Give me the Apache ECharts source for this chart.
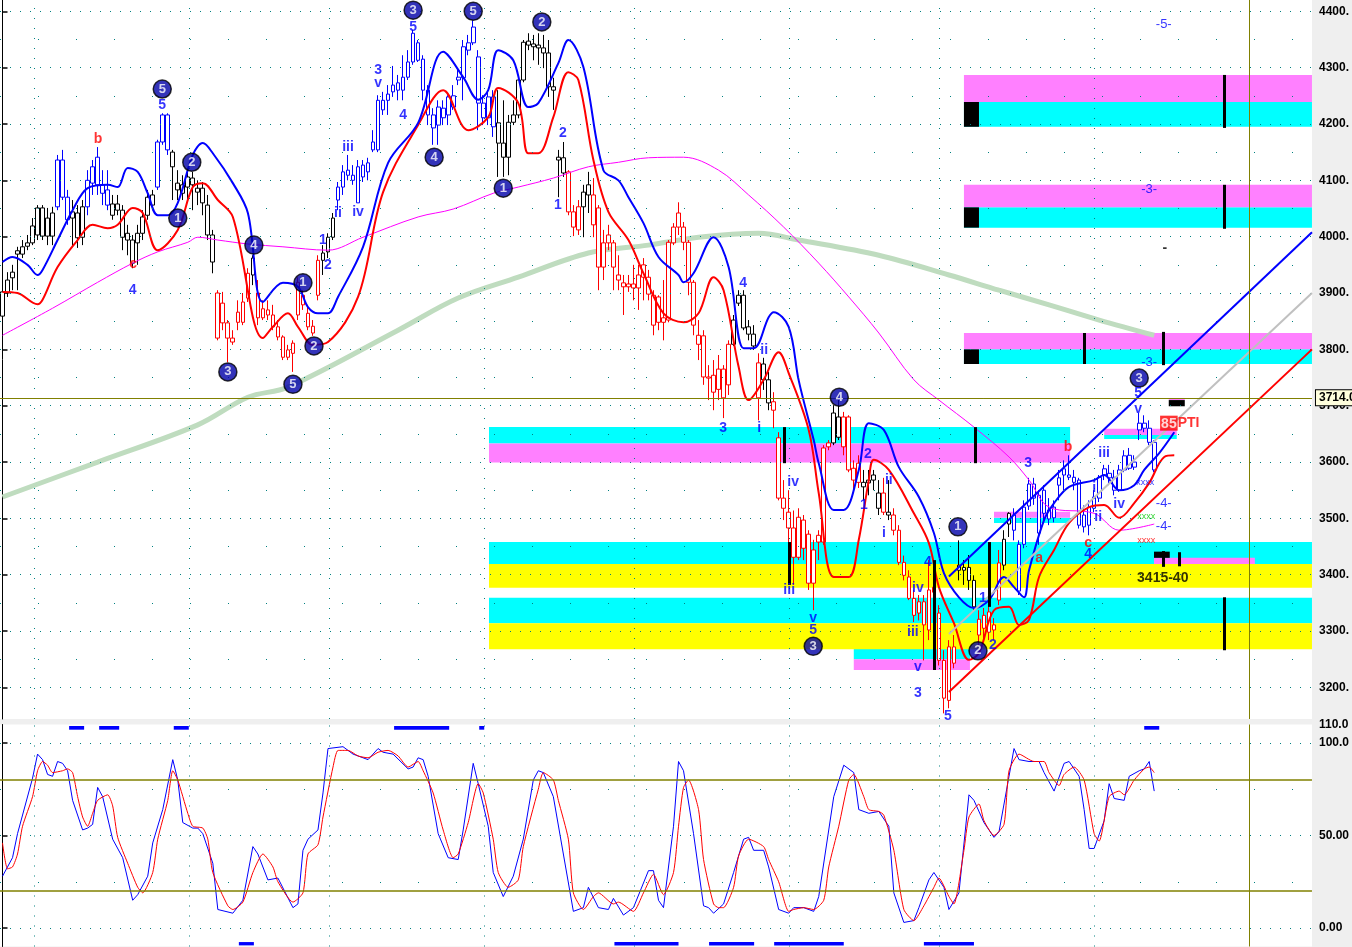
<!DOCTYPE html>
<html>
<head>
<meta charset="utf-8">
<title>Price chart with wave counts and stochastic</title>
<script src="https://cdn.jsdelivr.net/npm/echarts@6.0.0/dist/echarts.min.js"></script>
<style>
html,body{margin:0;padding:0;background:#efefef;overflow:hidden}
#main{width:1352px;height:947px}
</style>
</head>
<body>
<div id="main"></div>
<script>
// ---------------- DATA ----------------
const priceTicks = [3200,3300,3400,3500,3600,3700,3800,3900,4000,4100,4200,4300,4400];
const halfLevels = [3250,3350,3450,3550,3650,3750,3850,3950,4050,4150,4250,4350];
const stochTicks = [0,50,100,110];
const monthLines = [6.3,37.2,65.2,96.2,126.1,157.1,187.0,218.0];
const cursorX = 248.9;
const cursorPrice = 3714;

const opens = [3859,3900,3927,3975,3969,3983,3989,4003,4051,4033,
4001,4053,4136,4070,4033,4042,3999,4053,4095,4141,
4092,4083,4058,4058,4047,4006,3994,3989,4006,4038,
4074,4088,4168,4216,4150,4083,4092,4088,4104,4079,
4086,4056,4003,3820,3882,3847,3820,3866,3848,3891,
3932,3900,3856,3870,3861,3840,3822,3799,3793,3919,
3896,3864,3841,3896,3958,3973,3999,4065,4088,4118,
4109,4060,4127,4115,4154,4154,4242,4242,4257,4273,
4260,4283,4310,4344,4315,4260,4216,4198,4228,4216,
4230,4278,4282,4344,4344,4319,4237,4211,4248,4202,
4166,4141,4203,4216,4278,4347,4337,4335,4335,4326,
4266,4136,4140,4115,4044,4012,4053,4092,4074,4051,
3946,4003,3989,3932,3918,3916,3916,3909,3928,3928,
3896,3893,3856,3852,3989,4042,4017,3990,3919,3809,
3824,3749,3754,3729,3765,3737,3809,3882,3896,3840,
3827,3714,3774,3746,3707,3643,3536,3511,3483,3502,
3447,3472,3385,3470,3458,3627,3634,3644,3680,3680,
3589,3598,3564,3563,3568,3518,3545,3511,3506,3479,
3422,3396,3358,3332,3352,3302,3369,3332,3248,3177,
3272,3417,3413,3413,3390,3321,3305,3334,3311,3355,
3417,3509,3479,3371,3454,3522,3561,3474,3550,3499,
3501,3559,3577,3577,3573,3568,3506,3488,3518,3536,
3588,3580,3573,3550,3586,3612,3591,3657,3669,3660,
3635];
const highs = [3918,3937,3950,3982,3994,4003,4033,4056,4056,4051,
4053,4145,4154,4083,4065,4056,4065,4118,4136,4159,
4118,4118,4074,4074,4056,4021,4003,4021,4047,4083,
4083,4172,4219,4219,4154,4118,4109,4122,4115,4100,
4097,4074,4012,3905,3902,3852,3834,3887,3900,3944,
3967,3923,3887,3887,3879,3852,3825,3808,3816,3928,
3905,3879,3852,3967,3985,4006,4042,4097,4127,4145,
4127,4136,4136,4140,4189,4251,4257,4269,4303,4287,
4322,4331,4367,4349,4322,4269,4228,4242,4242,4251,
4269,4296,4349,4358,4384,4331,4251,4260,4260,4260,
4242,4216,4242,4287,4349,4361,4358,4361,4358,4349,
4282,4154,4168,4118,4056,4065,4092,4115,4104,4056,
4012,4021,3994,3967,3932,3932,3950,3950,3962,3941,
3905,3896,3923,3994,4024,4061,4026,3994,3923,3852,
3834,3772,3781,3790,3772,3816,3861,3905,3905,3852,
3843,3793,3785,3760,3724,3653,3568,3550,3514,3518,
3506,3479,3462,3479,3630,3639,3701,3710,3689,3683,
3603,3612,3586,3586,3586,3568,3572,3568,3518,3488,
3434,3408,3373,3364,3364,3426,3390,3346,3266,3284,
3293,3461,3426,3435,3399,3337,3341,3346,3323,3444,
3479,3511,3518,3461,3532,3572,3572,3550,3559,3536,
3532,3586,3603,3612,3586,3572,3523,3532,3550,3577,
3595,3595,3586,3595,3621,3625,3612,3687,3683,3674,
3639];
const lows = [3856,3893,3905,3905,3962,3976,3985,3994,3994,3985,
3985,4047,4065,4021,3982,3980,3985,4038,4074,4074,
4056,4047,4030,4038,3976,3967,3944,3950,3994,4030,
4047,4083,4163,4145,4065,4065,4065,4065,4047,4056,
4038,3994,3935,3816,3834,3777,3808,3834,3843,3884,
3914,3843,3852,3852,3834,3816,3781,3781,3760,3852,
3870,3834,3824,3887,3932,3962,3994,4047,4074,4100,
4092,4060,4097,4100,4150,4150,4216,4216,4248,4242,
4242,4278,4305,4310,4242,4198,4163,4163,4198,4198,
4225,4269,4242,4322,4340,4189,4198,4198,4177,4106,
4106,4109,4198,4210,4274,4331,4313,4305,4299,4248,
4225,4070,4106,4038,4001,4003,3999,4042,3999,3905,
3923,3976,3905,3905,3861,3902,3887,3870,3887,3887,
3825,3834,3816,3848,3985,4003,3976,3896,3825,3781,
3737,3710,3692,3710,3678,3719,3806,3877,3834,3816,
3799,3674,3728,3692,3660,3532,3497,3426,3382,3426,
3426,3373,3337,3426,3453,3621,3630,3639,3612,3582,
3550,3554,3532,3541,3550,3506,3506,3497,3470,3417,
3390,3355,3316,3319,3248,3284,3355,3239,3154,3163,
3234,3390,3382,3373,3337,3275,3284,3284,3284,3346,
3408,3467,3461,3364,3447,3515,3524,3453,3497,3488,
3493,3532,3550,3568,3550,3482,3475,3470,3511,3529,
3568,3559,3541,3547,3582,3586,3586,3639,3653,3630,
3582];
const closes = [3902,3923,3937,3969,3982,3989,4019,4051,4001,4001,
4042,4136,4070,4030,4044,3998,4053,4100,4124,4092,
4077,4056,4038,4047,3999,3994,3953,4006,4035,4070,
4056,4168,4216,4154,4124,4095,4077,4106,4092,4086,
4060,4003,3955,3900,3847,3820,3813,3848,3884,3935,
3962,3856,3872,3861,3840,3822,3786,3786,3811,3861,
3879,3840,3829,3958,3971,3999,4033,4088,4115,4109,
4100,4124,4106,4131,4168,4242,4225,4253,4269,4260,
4283,4310,4361,4313,4260,4216,4193,4230,4211,4248,
4250,4283,4337,4331,4372,4237,4211,4248,4195,4166,
4141,4203,4216,4278,4345,4340,4342,4340,4326,4266,
4260,4141,4113,4044,4017,4053,4079,4074,4021,3946,
3989,3989,3946,3923,3911,3911,3909,3932,3950,3898,
3843,3848,3848,3990,4017,4017,3990,3919,3843,3825,
3751,3751,3724,3765,3714,3809,3852,3896,3838,3827,
3806,3776,3746,3705,3692,3536,3518,3483,3431,3431,
3497,3385,3444,3458,3625,3634,3687,3680,3627,3586,
3568,3564,3556,3568,3577,3545,3511,3506,3479,3422,
3399,3358,3328,3352,3311,3373,3378,3248,3181,3272,
3243,3408,3408,3390,3343,3293,3328,3298,3302,3421,
3463,3490,3506,3454,3520,3561,3536,3541,3509,3515,
3520,3572,3588,3573,3564,3488,3485,3520,3538,3573,
3577,3572,3550,3586,3611,3589,3600,3669,3660,3635,
3586];
// candle colour class per run: k = neutral, b = up-trend, r = down-trend
const colorRuns = [['k',11],['b',3],['k',3],['b',5],['k',9],['b',3],['k',9],['r',7],['k',1],['r',13],['k',3],['b',32],['k',14],['r',3],['k',2],['r',28],['k',5],['r',1],['k',2],['r',12],['k',2],['r',4],['k',4],['r',1],['k',1],['r',13],['k',4],['r',5],['k',2],['b',29]];

const blueMA = [[0,3955],[2,3964],[5,3950],[7,3932],[8,3941],[11,3994],[14,4047],[17,4086],[21,4092],[23,4088],[25,4122],[27,4115],[29,4077],[31,4038],[33,4038],[35,4060],[38,4145],[40,4166],[42,4148],[46,4095],[49,4042],[52,3884],[56,3918],[59,3911],[61,3875],[63,3864],[65,3864],[67,3893],[72,3982],[77,4131],[83,4202],[88,4328],[92,4283],[95,4243],[97,4260],[99,4331],[102,4313],[105,4230],[107,4237],[111,4308],[113,4349],[116,4301],[120,4118],[123,4100],[125,4070],[128,4024],[131,3964],[135,3932],[136,3919],[138,3935],[142,3999],[145,3946],[148,3802],[150,3802],[153,3857],[154,3866],[157,3840],[159,3745],[162,3639],[163,3598],[166,3515],[168,3515],[171,3586],[173,3669],[176,3657],[179,3591],[183,3538],[186,3474],[188,3403],[191,3360],[194,3341],[197,3355],[200,3396],[202,3378],[204,3360],[205,3408],[208,3497],[210,3527],[213,3556],[218,3568],[220,3577],[223,3550],[226,3559],[228,3586],[231,3616],[234,3653]];
const redMA = [[0,3902],[3,3900],[7,3880],[8,3888],[11,3946],[15,3994],[18,4021],[21,4015],[23,4021],[26,4051],[28,4042],[31,3976],[35,4012],[38,4088],[40,4095],[43,4065],[46,4035],[52,3820],[54,3840],[57,3864],[59,3840],[62,3808],[65,3813],[71,3893],[76,4079],[83,4198],[88,4260],[93,4189],[97,4212],[99,4264],[103,4237],[105,4148],[107,4148],[110,4212],[113,4292],[115,4278],[118,4136],[121,4044],[125,3994],[128,3935],[132,3864],[136,3848],[139,3864],[142,3928],[144,3905],[147,3769],[149,3710],[152,3746],[155,3795],[157,3758],[161,3657],[163,3545],[166,3396],[169,3396],[171,3462],[173,3568],[174,3604],[177,3586],[182,3509],[185,3456],[187,3378],[190,3314],[193,3249],[195,3261],[198,3337],[201,3343],[203,3311],[205,3320],[207,3396],[210,3444],[213,3492],[217,3520],[220,3524],[223,3501],[226,3527],[229,3563],[232,3609],[234,3612]];
const magentaMA = [[0,3825],[10,3873],[19,3919],[26,3953],[31,3973],[37,3990],[39,3999],[43,3994],[49,3987],[56,3982],[65,3976],[72,3999],[83,4035],[90,4049],[98,4077],[103,4088],[110,4104],[117,4124],[123,4132],[129,4140],[136,4141],[143,4118],[149,4074],[156,4017],[163,3953],[169,3893],[175,3829],[182,3746],[187,3710],[194,3662],[201,3609],[205,3568],[209,3520],[218,3509],[223,3479],[230,3490]];
const greenMA = [[0,3538],[19,3600],[39,3666],[49,3715],[57,3733],[79,3834],[91,3891],[103,3928],[117,3971],[129,3985],[139,3999],[151,4006],[159,3994],[175,3967],[189,3932],[199,3905],[209,3879],[219,3852],[230,3825]];

const stochK = [[0,28],[2,38],[3,51],[6,81],[7,94],[8,91],[9,83],[10,82],[11,90],[12,89],[13,85],[14,69],[16,53],[17,54],[18,56],[19,76],[20,71],[22,48],[24,38],[26,15],[27,18],[29,28],[30,46],[32,64],[34,91],[35,80],[36,57],[38,54],[39,54],[40,51],[42,35],[43,10],[46,8],[48,15],[50,44],[51,40],[53,26],[55,27],[58,11],[59,13],[60,42],[61,48],[63,53],[64,73],[65,97],[68,98],[70,94],[73,91],[74,94],[75,97],[76,95],[78,94],[81,86],[82,87],[83,92],[84,91],[85,82],[87,51],[89,38],[91,37],[92,53],[94,89],[95,78],[97,55],[98,30],[100,17],[102,28],[104,48],[106,80],[107,85],[108,84],[110,71],[112,40],[114,9],[116,11],[117,22],[119,11],[121,10],[122,16],[124,7],[126,11],[129,31],[130,31],[131,15],[132,11],[134,55],[135,90],[136,85],[138,51],[140,12],[141,11],[142,8],[144,13],[146,30],[148,48],[149,49],[150,42],[152,42],[153,33],[155,10],[157,8],[158,11],[160,11],[162,9],[163,17],[166,71],[168,88],[170,84],[171,64],[173,62],[175,63],[177,55],[178,19],[180,3],[182,4],[183,11],[185,26],[186,30],[188,22],[189,10],[191,19],[193,72],[194,69],[196,57],[198,49],[199,52],[201,82],[202,97],[203,91],[205,90],[207,90],[208,84],[210,74],[212,89],[213,90],[215,82],[216,64],[217,43],[218,43],[220,58],[221,78],[222,70],[224,69],[225,82],[227,85],[228,86],[229,90],[230,74]];
const stochD = [[0,46],[1,32],[2,33],[3,40],[4,55],[6,71],[7,85],[8,90],[9,88],[10,84],[12,85],[13,86],[14,84],[15,71],[16,60],[17,55],[18,62],[19,69],[21,72],[22,66],[23,49],[25,35],[27,22],[28,19],[30,30],[31,48],[33,69],[34,85],[35,80],[37,62],[38,55],[40,54],[41,48],[42,30],[45,12],[46,10],[48,14],[50,30],[52,40],[54,33],[55,25],[58,14],[60,19],[61,40],[63,45],[64,60],[66,87],[67,96],[69,96],[71,93],[73,92],[75,95],[77,96],[79,93],[81,87],[83,90],[84,85],[86,73],[88,53],[90,38],[91,40],[93,57],[95,78],[96,73],[98,48],[99,30],[101,22],[103,26],[104,44],[107,75],[108,84],[110,80],[111,69],[113,48],[114,19],[116,10],[118,17],[119,19],[122,13],[123,14],[126,9],[128,19],[130,29],[132,18],[134,30],[135,55],[136,76],[137,80],[139,64],[140,37],[142,13],[143,11],[144,11],[146,22],[147,39],[149,48],[152,44],[153,37],[155,25],[157,9],[158,10],[160,11],[162,10],[164,15],[165,33],[167,55],[169,80],[170,83],[172,71],[173,64],[175,63],[176,61],[178,42],[180,10],[182,4],[184,12],[186,22],[187,27],[189,17],[190,13],[192,42],[193,60],[195,67],[196,58],[198,50],[200,56],[201,85],[203,94],[206,90],[208,90],[209,84],[211,77],[212,83],[214,87],[216,80],[218,51],[219,47],[221,71],[223,74],[224,72],[226,80],[228,86],[229,87],[230,84]];

// zones: [fromBar, toBar, lowPrice, highPrice]
const cyanZones = [[192.0,261.5,4195,4239],[192.0,261.5,4016,4052],[192.0,261.5,3774,3800],[97.15,213.2,3633,3662],[97.15,261.5,3419,3458],[97.15,261.5,3314,3359],[170.0,193.2,3250,3269],[198.0,213.2,3492,3501],[220.0,234.5,3641,3648]];
const magentaZones = [[192.0,261.5,4239,4287],[192.0,261.5,4052,4092],[192.0,261.5,3800,3829],[97.15,213.2,3599,3633],[170.0,193.2,3231,3250],[198.0,213.2,3501,3512],[220.0,234.5,3648,3659],[229.95,250.1,3419,3430],[232.9,236.1,3710,3713]];
const yellowZones = [[97.15,261.5,3377,3419],[97.15,261.5,3268,3314]];
const blackZones = [[192.0,195.0,4195,4239],[192.0,195.0,4016,4052],[192.0,195.0,3774,3800],[229.95,233.1,3430,3441],[232.9,236.1,3699,3710]];
// black vertical markers: [bar, lowPrice, highPrice]
const blackMarkers = [[156.1,3598,3662],[194.2,3598,3662],[157.1,3382,3458],[186.0,3231,3426],[197.0,3343,3458],[216.0,3774,3829],[231.9,3772,3831],[243.9,4193,4287],[243.9,4014,4092],[243.9,3266,3360],[231.9,3414,3442],[234.9,3415,3440]];
// trend lines: [bar1, price1, bar2, price2]
const blueTrend = [189.0,3397,261.5,4008];
const grayTrend = [189.0,3295,261.5,3900];
const redTrend = [189.0,3192,261.5,3800];
// stochastic signal bars: [fromBar, toBar]
const topSignals = [[13.3,16.3],[19.3,23.3],[34.2,37.2],[78.2,89.2],[95.2,96.2],[228.0,231.0]];
const bottomSignals = [[47.2,50.2],[122.2,135.0],[141.1,150.1],[154.1,168.0],[184.0,194.0]];

// annotations: [bar, price, text]
const circleLabels = [[31.9,4262,'5'],[35.0,4033,'1'],[37.8,4132,'2'],[45.0,3760,'3'],[50.2,3985,'4'],[58.0,3738,'5'],[60.0,3918,'1'],[62.2,3806,'2'],[82.0,4402,'3'],[86.2,4141,'4'],[94.0,4400,'5'],[100.0,4086,'1'],[107.7,4381,'2'],[167.1,3715,'4'],[161.9,3273,'3'],[190.8,3485,'1'],[194.8,3265,'2'],[227.0,3749,'3']];
const blueLabels = [[31.9,4233,'5'],[26.0,3905,'4'],[64.0,3994,'1'],[65.0,3950,'2'],[67.0,4042,'ii'],[69.0,4159,'iii'],[71.0,4044,'iv'],[75.0,4296,'3'],[75.0,4272,'v'],[80.0,4216,'4'],[82.0,4372,'5'],[111.9,4184,'2'],[110.9,4056,'1'],[147.9,3918,'4'],[143.9,3660,'3'],[151.1,3660,'i'],[152.1,3799,'ii'],[157.9,3564,'iv'],[157.1,3373,'iii'],[161.9,3323,'v'],[161.9,3301,'5'],[172.8,3614,'2'],[172.0,3524,'1'],[177.0,3568,'ii'],[176.0,3474,'i'],[184.8,3422,'4'],[182.8,3376,'iv'],[181.8,3298,'iii'],[182.8,3236,'v'],[182.8,3190,'3'],[188.8,3149,'5'],[195.8,3358,'1'],[197.8,3275,'2'],[204.8,3598,'3'],[220.0,3616,'iii'],[218.0,3554,'i'],[218.8,3502,'ii'],[223.0,3525,'iv'],[216.8,3437,'4'],[226.8,3722,'5'],[226.8,3694,'v']];
const redLabels = [[19.1,4173,'b'],[26.1,3951,'c'],[212.8,3627,'b'],[207.0,3430,'a'],[216.8,3456,'c']];
const targetLabels = [[229.0,4083,'-3-'],[229.0,3776,'-3-'],[231.9,4376,'-5-'],[231.9,3527,'-4-'],[231.9,3485,'-4-']];
const blackLabels = [[231.7,3394,'3415-40'],[232.1,3980,'-']];
const ptiLabel = [[235.1,3669,'85','PTI']];
const xMarkBlue = [[228.2,3563,'xxxx']];
const xMarkGreen = [[228.4,3504,'xxxx']];
const xMarkRed = [[228.4,3461,'xxxx']];

// ---------------- CHART ----------------
const FONT = 'Liberation Sans, Arial, Helvetica, sans-serif';
const TEAL = '#008080', OLIVE = '#808000';
const CYAN = '#00ffff', MAGENTA = '#ff80ff', YELLOW = '#ffff00';
const colorMap = {k:'#000000', b:'#0000ff', r:'#ff0000'};
const barCodes = [];
colorRuns.forEach(([c, n]) => { for (let j = 0; j < n; j++) barCodes.push(c); });

const candleData = opens.map((o, i) => {
  const c = colorMap[barCodes[i]] || '#000';
  return {value: [i, o, closes[i], lows[i], highs[i]],
          itemStyle: {color: '#ffffff', color0: c, borderColor: c, borderColor0: c, borderWidth: 1}};
});

const areaItems = [];
function addZones(arr, color) {
  arr.forEach(z => areaItems.push([{coord: [z[0], z[2]], itemStyle: {color: color, opacity: 1, borderWidth: 0}}, {coord: [z[1], z[3]]}]));
}
addZones(cyanZones, CYAN);
addZones(magentaZones, MAGENTA);
addZones(yellowZones, YELLOW);
addZones(blackZones, '#000000');

const markerItems = blackMarkers.map(m => [{coord: [m[0], m[1]], lineStyle: {color: '#000', width: 3, type: 'solid'}}, {coord: [m[0], m[2]]}]);
function trendItem(t, color) {
  return [{coord: [t[0], t[1]], lineStyle: {color: color, width: 2, type: 'solid'}}, {coord: [t[2], t[3]]}];
}

function textSeries(arr, labelStyle, extra) {
  return Object.assign({
    type: 'scatter', xAxisIndex: 0, yAxisIndex: 0, symbolSize: 1, clip: false, silent: true, z: 10,
    itemStyle: {color: 'rgba(0,0,0,0)'},
    data: arr.map(a => ({value: [a[0], a[1]], name: a[2]})),
    label: Object.assign({show: true, position: 'inside', formatter: p => p.name, fontFamily: FONT}, labelStyle)
  }, extra || {});
}

function maLine(name, data, color, width, z) {
  return {type: 'line', name: name, xAxisIndex: 0, yAxisIndex: 0, data: data, z: z, showSymbol: false,
          smooth: 0.35, silent: true, lineStyle: {color: color, width: width}};
}

const stochLabel = v => v === 100 ? '100.0' : v === 110 ? '110.0' : v === 0 ? '0.00' : v.toFixed(2);

const option = {
  animation: false,
  backgroundColor: '#efefef',
  textStyle: {fontFamily: FONT},
  grid: [
    {left: 0, top: 0, width: 1312, height: 719, show: true, backgroundColor: '#ffffff', borderWidth: 0},
    {left: 0, top: 724.5, width: 1312, height: 222, show: true, backgroundColor: '#ffffff', borderWidth: 0}
  ],
  xAxis: [
    {type: 'value', gridIndex: 0, min: -0.5, max: 261.5, show: false},
    {type: 'value', gridIndex: 1, min: -0.5, max: 261.5, show: false}
  ],
  yAxis: [
    {type: 'value', gridIndex: 0, position: 'right', min: 3144, max: 4420,
     axisLine: {show: true, lineStyle: {color: '#000', width: 1}},
     axisTick: {show: true, customValues: priceTicks, length: 5, lineStyle: {color: '#000', width: 1.5}},
     axisLabel: {customValues: priceTicks, formatter: v => v + '.', color: '#000', fontWeight: 'bold', fontSize: 12, margin: 7, fontFamily: FONT},
     splitLine: {show: false}},
    {type: 'value', gridIndex: 1, position: 'right', min: -10, max: 110,
     axisLine: {show: true, lineStyle: {color: '#000', width: 1}},
     axisTick: {show: true, customValues: [0, 50, 100], length: 5, lineStyle: {color: '#000', width: 1.5}},
     axisLabel: {customValues: stochTicks, formatter: stochLabel, color: '#000', fontWeight: 'bold', fontSize: 12, margin: 7, fontFamily: FONT},
     splitLine: {show: false}}
  ],
  series: [
    // main grid lines
    {type: 'line', name: 'gridMain', xAxisIndex: 0, yAxisIndex: 0, data: [], z: 1, silent: true,
     markLine: {symbol: 'none', silent: true, label: {show: false},
       lineStyle: {color: TEAL, type: [1, 9], width: 1},
       data: priceTicks.map(v => ({yAxis: v}))
         .concat(halfLevels.map(v => ({yAxis: v, lineStyle: {color: TEAL, type: [1, 37], width: 1}})))
         .concat(monthLines.map(v => ({xAxis: v})))}},
    // zones
    {type: 'line', name: 'zones', xAxisIndex: 0, yAxisIndex: 0, data: [], z: 2, silent: true,
     markArea: {silent: true, label: {show: false}, data: areaItems}},
    maLine('ma200', greenMA, '#bfdcbf', 5, 2),
    {type: 'candlestick', name: 'price', xAxisIndex: 0, yAxisIndex: 0, z: 3, barWidth: 4.2, silent: true, data: candleData},
    maLine('maSlow', magentaMA, '#ff00ff', 1, 4),
    maLine('maRed', redMA, '#ff0000', 2, 4),
    maLine('maBlue', blueMA, '#0000ff', 2, 4),
    // trend lines and markers
    {type: 'line', name: 'trend', xAxisIndex: 0, yAxisIndex: 0, data: [], z: 5, silent: true,
     markLine: {symbol: 'none', silent: true, label: {show: false},
       data: [trendItem(grayTrend, '#c0c0c0'), trendItem(blueTrend, '#0000ff'), trendItem(redTrend, '#ff0000')].concat(markerItems)}},
    // cursor lines
    {type: 'line', name: 'cursorMain', xAxisIndex: 0, yAxisIndex: 0, data: [], z: 6, silent: true,
     markLine: {symbol: 'none', silent: true,
       data: [
         {yAxis: cursorPrice, lineStyle: {color: OLIVE, width: 1, type: 'solid'},
          label: {show: true, position: 'end', distance: 4, formatter: cursorPrice.toFixed(1), color: '#000', fontWeight: 'bold', fontSize: 12,
                  backgroundColor: '#ffffdd', borderColor: '#000', borderWidth: 1, padding: [2, 3, 1, 3], fontFamily: FONT}},
         {xAxis: cursorX, lineStyle: {color: OLIVE, width: 1, type: 'solid'}, label: {show: false}}
       ]}},
    // lower panel grid, levels, signals
    {type: 'line', name: 'gridLow', xAxisIndex: 1, yAxisIndex: 1, data: [], z: 1, silent: true,
     markLine: {symbol: 'none', silent: true, label: {show: false},
       lineStyle: {color: TEAL, type: [1, 9], width: 1},
       data: [{yAxis: 100}, {yAxis: 50}, {yAxis: 0},
              {yAxis: 75, lineStyle: {color: TEAL, type: [1, 37], width: 1}},
              {yAxis: 25, lineStyle: {color: TEAL, type: [1, 37], width: 1}},
              {yAxis: 80, lineStyle: {color: OLIVE, width: 1.5, type: 'solid'}},
              {yAxis: 20, lineStyle: {color: OLIVE, width: 1.5, type: 'solid'}},
              {xAxis: cursorX, lineStyle: {color: OLIVE, width: 1, type: 'solid'}}]
              .concat(monthLines.map(v => ({xAxis: v})))},
     markArea: {silent: true, label: {show: false},
       data: topSignals.map(s => [{coord: [s[0], 107.2], itemStyle: {color: '#0000ff', opacity: 1}}, {coord: [s[1], 109.2]}])
         .concat(bottomSignals.map(s => [{coord: [s[0], -9.4], itemStyle: {color: '#0000ff', opacity: 1}}, {coord: [s[1], -7.6]}]))}},
    {type: 'line', name: 'stochK', xAxisIndex: 1, yAxisIndex: 1, data: stochK, z: 3, showSymbol: false, silent: true,
     lineStyle: {color: '#0000ff', width: 1}},
    {type: 'line', name: 'stochD', xAxisIndex: 1, yAxisIndex: 1, data: stochD, z: 3, showSymbol: false, silent: true,
     smooth: 0.2, lineStyle: {color: '#ff0000', width: 1}},
    // annotations
    textSeries(circleLabels, {color: '#ffffff', fontWeight: 'bold', fontSize: 13},
      {symbol: 'circle', symbolSize: 18, itemStyle: {color: '#0000a8', borderColor: '#000000', borderWidth: 1.5}}),
    textSeries(blueLabels, {color: '#0000ff', fontWeight: 'bold', fontSize: 14}),
    textSeries(redLabels, {color: '#ff0000', fontWeight: 'bold', fontSize: 14}),
    textSeries(targetLabels, {color: '#0000ff', fontSize: 13}),
    textSeries(blackLabels, {color: '#000000', fontWeight: 'bold', fontSize: 14}),
    textSeries(xMarkBlue, {color: '#0000ff', fontSize: 9}),
    textSeries(xMarkGreen, {color: '#00cc00', fontSize: 9}),
    textSeries(xMarkRed, {color: '#ff0000', fontSize: 9}),
    {type: 'scatter', xAxisIndex: 0, yAxisIndex: 0, symbolSize: 1, clip: false, silent: true, z: 10,
     itemStyle: {color: 'rgba(0,0,0,0)'},
     data: ptiLabel.map(a => ({value: [a[0], a[1]], name: a[2], extra: a[3]})),
     label: {show: true, position: 'inside', formatter: p => '{a|' + p.data.name + '}{b|' + p.data.extra + '}',
       rich: {a: {color: '#ffffff', backgroundColor: '#ff0000', fontWeight: 'bold', fontSize: 14, padding: [1, 1, 0, 1], fontFamily: FONT},
              b: {color: '#ff0000', fontWeight: 'bold', fontSize: 14, fontFamily: FONT}}}}
  ]
};

const chart = echarts.init(document.getElementById('main'), null, {renderer: 'canvas'});
chart.setOption(option);
</script>
</body>
</html>
